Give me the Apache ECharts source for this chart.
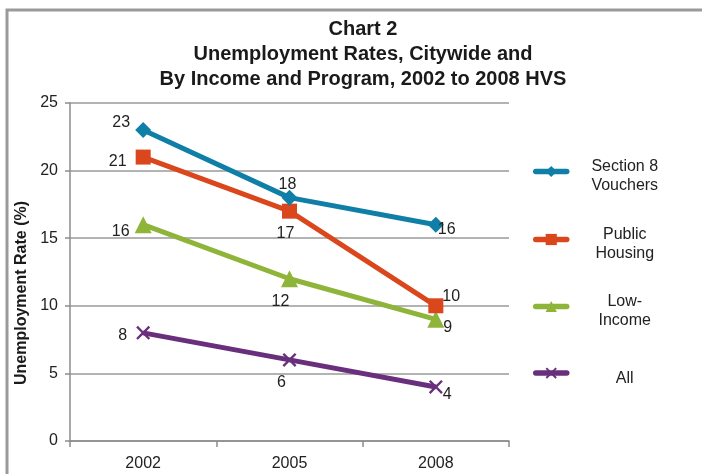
<!DOCTYPE html>
<html>
<head>
<meta charset="utf-8">
<script src="https://cdn.jsdelivr.net/npm/echarts@6/dist/echarts.min.js"></script>
<style>
html,body{margin:0;padding:0;background:#fff;}
#chart{width:702px;height:474px;}
</style>
</head>
<body>
<div id="chart"></div>
<script>
// Unemployment rates by group, HVS survey years
const years = ['2002', '2005', '2008'];
const section8 = [23, 18, 16];
const publicHousing = [21, 17, 10];
const lowIncome = [16, 12, 9];
const allRate = [8, 6, 4];
const yTicks = [0, 5, 10, 15, 20, 25];

const seriesNames = ['Section 8\nVouchers', 'Public\nHousing', 'Low-\nIncome', 'All'];
const colors = ['#0f7fa8', '#da471d', '#8fb43a', '#6a2f7c'];

// label placement per point: [position, offset]
const labelPlacement = [
  [['left', [0, -7]], ['top', [-2, 8]], ['right', [-11, 5]]],
  [['left', [-4, 5]], ['bottom', [-4, 2]], ['right', [-6, -9]]],
  [['left', [0, 7]], ['bottom', [-9, 1]], ['right', [-6, 8]]],
  [['left', [-4, 3]], ['bottom', [-8, 3]], ['right', [-5, 8]]]
];

const font = '"Liberation Sans", Arial, sans-serif';
const xSymbol = 'path://M0,1.2 L1.2,0 L5,3.8 L8.8,0 L10,1.2 L6.2,5 L10,8.8 L8.8,10 L5,6.2 L1.2,10 L0,8.8 L3.8,5 Z';
const symbols = ['diamond', 'rect', 'triangle', xSymbol];
const symbolSizes = [16, 15, 17, 14];

function makeSeries(name, values, idx) {
  return {
    name: name,
    type: 'line',
    data: values.map((v, i) => ({
      value: v,
      label: {
        position: labelPlacement[idx][i][0],
        offset: labelPlacement[idx][i][1]
      }
    })),
    symbol: symbols[idx],
    symbolSize: symbolSizes[idx],
    lineStyle: { width: 5, color: colors[idx] },
    itemStyle: { color: colors[idx] },
    label: {
      show: true,
      fontFamily: font,
      fontSize: 16,
      color: '#222'
    },
    z: 10 - idx
  };
}

// legend rows: icon centre height and distance from row top to icon centre
const legendIconY = [171, 239, 306, 373];
const legendIconOffset = [17, 17, 17, 10.5];
const legends = seriesNames.map((n, i) => ({
  data: [n],
  left: 528,
  top: legendIconY[i] - legendIconOffset[i],
  orient: 'vertical',
  itemWidth: 31,
  itemHeight: 14,
  selectedMode: false,
  lineStyle: { width: 5.5, cap: 'round' },
  formatter: function (name) {
    return name.split('\n').map(s => '{c|' + s + '}').join('\n');
  },
  textStyle: {
    fontFamily: font,
    fontSize: 16,
    color: '#222',
    padding: [10, 0, 0, 0],
    rich: { c: { width: 106, align: 'center', fontFamily: font, fontSize: 16, color: '#222', lineHeight: 19 } }
  }
}));

const chart = echarts.init(document.getElementById('chart'), null, { renderer: 'canvas' });
chart.setOption({
  backgroundColor: '#fff',
  animation: false,
  title: {
    text: 'Chart 2\nUnemployment Rates, Citywide and\nBy Income and Program, 2002 to 2008 HVS',
    left: 358,
    top: 12,
    textAlign: 'center',
    textStyle: {
      fontFamily: font,
      fontWeight: 'bold',
      fontSize: 20,
      lineHeight: 25,
      color: '#1a1a1a'
    }
  },
  graphic: [{
    type: 'rect',
    shape: { x: 7, y: 10, width: 720, height: 500 },
    style: { fill: null, stroke: '#9a9a9a', lineWidth: 3 },
    silent: true
  }],
  legend: legends,
  grid: { left: 70, right: 193, top: 103, bottom: 33 },
  xAxis: {
    type: 'category',
    data: years,
    boundaryGap: true,
    axisLine: { lineStyle: { color: '#8c8c8c', width: 1.5 } },
    axisTick: { show: true, length: 6, lineStyle: { color: '#8c8c8c', width: 1.5 } },
    axisLabel: { fontFamily: font, fontSize: 16, color: '#222', margin: 15 }
  },
  yAxis: {
    type: 'value',
    min: yTicks[0],
    max: yTicks[yTicks.length - 1],
    interval: 5,
    name: 'Unemployment Rate (%)',
    nameLocation: 'middle',
    nameGap: 37,
    nameTextStyle: { fontFamily: font, fontWeight: 'bold', fontSize: 16, color: '#1a1a1a', padding: [0, 42, 0, 0] },
    axisLine: { show: true, lineStyle: { color: '#8c8c8c', width: 1.5 } },
    axisTick: { show: true, length: 5, lineStyle: { color: '#8c8c8c', width: 1.5 } },
    axisLabel: { fontFamily: font, fontSize: 16, color: '#222', margin: 12 },
    splitLine: { lineStyle: { color: '#9a9a9a', width: 1.5 } }
  },
  series: [
    makeSeries(seriesNames[0], section8, 0),
    makeSeries(seriesNames[1], publicHousing, 1),
    makeSeries(seriesNames[2], lowIncome, 2),
    makeSeries(seriesNames[3], allRate, 3)
  ]
});
</script>
</body>
</html>
